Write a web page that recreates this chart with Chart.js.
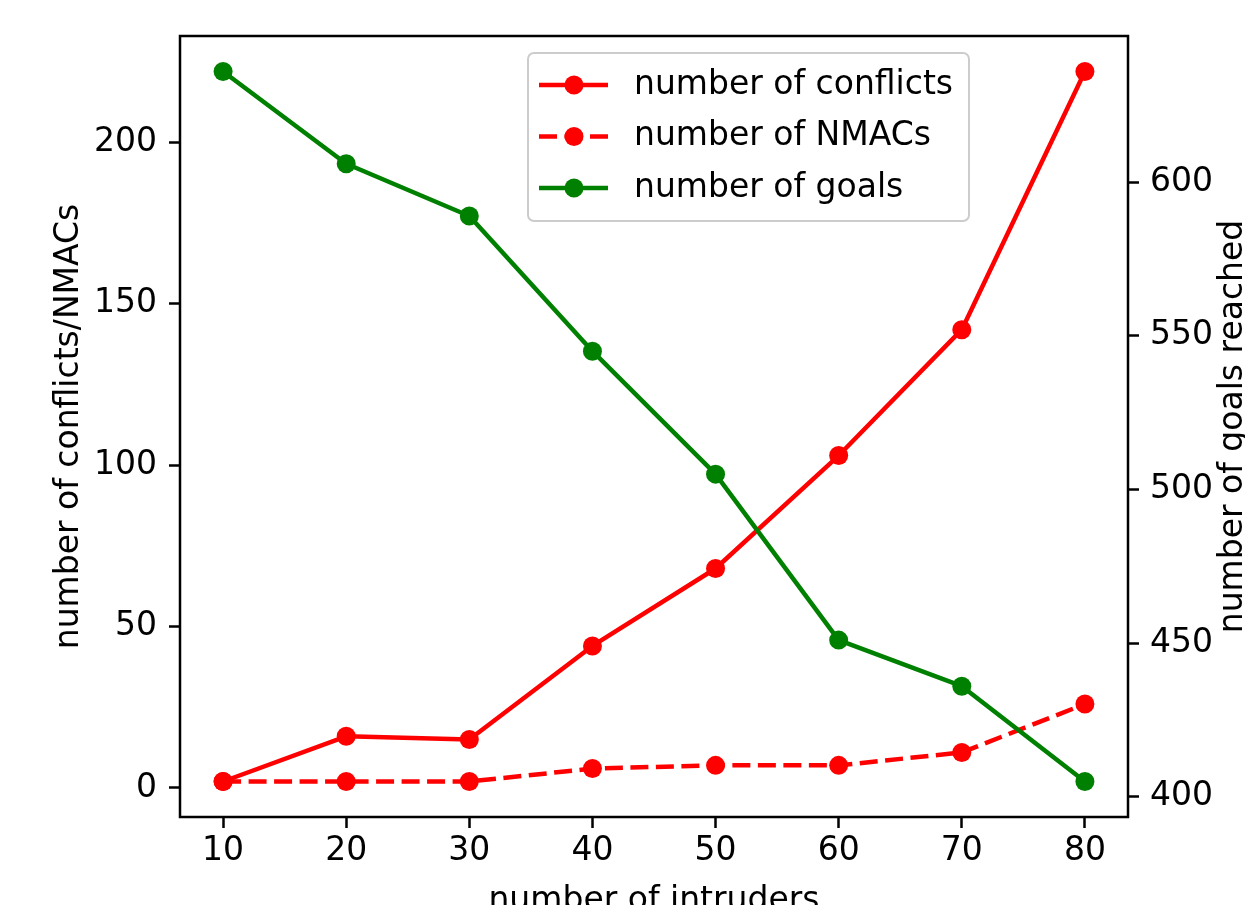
<!DOCTYPE html>
<html><head><meta charset="utf-8">
<script src="https://cdn.jsdelivr.net/npm/chart.js@4.4.1/dist/chart.umd.min.js"></script>
<style>html,body{margin:0;padding:0;background:#fff;overflow:hidden}canvas{display:block}</style>
</head><body>
<canvas id="c" width="1245" height="905"></canvas>
<script>
const intruders = [10, 20, 30, 40, 50, 60, 70, 80];
const conflicts = [2, 16, 15, 44, 68, 103, 142, 222];
const nmacs = [2, 2, 2, 6, 7, 7, 11, 26];
const goals = [636, 606, 589, 545, 505, 451, 436, 405];
const xTicks = [10, 20, 30, 40, 50, 60, 70, 80];
const leftTicks = [0, 50, 100, 150, 200];
const rightTicks = [400, 450, 500, 550, 600];
const seriesLabels = ['number of conflicts', 'number of NMACs', 'number of goals'];
const xTitle = 'number of intruders';
const yLeftTitle = 'number of conflicts/NMACs';
const yRightTitle = 'number of goals reached';

const FONT = 'DejaVu Sans';
const FS = 33;
const RED = '#ff0000', GREEN = '#008000';
const LW = 4.5, PR = 9.5, DASH = [18, 7.5];

Chart.defaults.font.family = FONT;
Chart.defaults.font.size = FS;
Chart.defaults.color = '#000';

const pts = (ys) => intruders.map((x, i) => ({x: x, y: ys[i]}));
const setTicks = (arr) => (scale) => { scale.ticks = arr.map(v => ({value: v})); };

const framePlugin = {
  id: 'frame',
  afterDraw(chart) {
    const {ctx, chartArea: a} = chart;
    ctx.save();
    ctx.strokeStyle = '#000';
    ctx.lineWidth = 2.5;
    ctx.strokeRect(a.left, a.top, a.right - a.left, a.bottom - a.top);
    ctx.restore();
  }
};

const rightTitlePlugin = {
  id: 'rightTitle',
  afterDraw(chart) {
    const {ctx, chartArea: a} = chart;
    ctx.save();
    ctx.translate(1242, (a.top + a.bottom) / 2);
    ctx.rotate(-Math.PI / 2);
    ctx.font = FS + 'px "' + FONT + '"';
    ctx.fillStyle = '#000';
    ctx.textAlign = 'center';
    ctx.textBaseline = 'alphabetic';
    ctx.fillText(yRightTitle, 0, 0);
    ctx.restore();
  }
};

const legendPlugin = {
  id: 'mplLegend',
  afterDraw(chart) {
    const ctx = chart.ctx;
    const bx = 528, by = 53, bw = 441, bh = 168, r = 6;
    ctx.save();
    ctx.beginPath();
    ctx.roundRect(bx, by, bw, bh, r);
    ctx.fillStyle = 'rgba(255,255,255,0.8)';
    ctx.fill();
    ctx.strokeStyle = '#cccccc';
    ctx.lineWidth = 2;
    ctx.stroke();
    const ds = chart.data.datasets;
    const order = [1, 2, 0];
    const rows = [85, 136.5, 188];
    order.forEach((di, k) => {
      const d = ds[di];
      const y = rows[k];
      ctx.strokeStyle = d.borderColor;
      ctx.lineWidth = LW;
      ctx.setLineDash(d.borderDash || []);
      ctx.beginPath();
      ctx.moveTo(539, y);
      ctx.lineTo(608, y);
      ctx.stroke();
      ctx.setLineDash([]);
      ctx.beginPath();
      ctx.arc(574, y, PR, 0, Math.PI * 2);
      ctx.fillStyle = d.pointBackgroundColor;
      ctx.fill();
      ctx.fillStyle = '#000';
      ctx.font = FS + 'px "' + FONT + '"';
      ctx.textAlign = 'left';
      ctx.textBaseline = 'middle';
      ctx.fillText(d.label, 634, y);
    });
    ctx.restore();
  }
};

new Chart(document.getElementById('c'), {
  type: 'line',
  data: {
    datasets: [
      {label: seriesLabels[2], data: pts(goals), yAxisID: 'y1', borderColor: GREEN, backgroundColor: GREEN,
       pointBackgroundColor: GREEN, pointBorderColor: GREEN, borderWidth: LW, pointRadius: PR, pointBorderWidth: 0,
       pointHoverRadius: PR, borderJoinStyle: 'round', tension: 0, fill: false, order: 0},
      {label: seriesLabels[0], data: pts(conflicts), yAxisID: 'y', borderColor: RED, backgroundColor: RED,
       pointBackgroundColor: RED, pointBorderColor: RED, borderWidth: LW, pointRadius: PR, pointBorderWidth: 0,
       pointHoverRadius: PR, borderJoinStyle: 'round', tension: 0, fill: false, order: 1},
      {label: seriesLabels[1], data: pts(nmacs), yAxisID: 'y', borderColor: RED, backgroundColor: RED,
       pointBackgroundColor: RED, pointBorderColor: RED, borderWidth: LW, pointRadius: PR, pointBorderWidth: 0,
       pointHoverRadius: PR, borderDash: DASH, borderJoinStyle: 'round', tension: 0, fill: false, order: 2}
    ]
  },
  options: {
    responsive: false,
    animation: false,
    devicePixelRatio: 1,
    events: [],
    layout: {padding: {left: 0, right: 0, top: 36, bottom: 0}},
    plugins: {legend: {display: false}, tooltip: {enabled: false}},
    scales: {
      x: {
        type: 'linear', position: 'bottom', min: 6.5, max: 83.5,
        afterBuildTicks: setTicks(xTicks),
        afterFit: (s) => { s.height = 88; },
        grid: {display: true, drawOnChartArea: false, drawTicks: true, tickLength: 11, tickWidth: 2.5, tickColor: '#000'},
        border: {display: false},
        ticks: {padding: 3.5, color: '#000', maxRotation: 0, autoSkip: false},
        title: {display: true, text: xTitle, color: '#000', padding: {top: 0, bottom: -16.5}}
      },
      y: {
        type: 'linear', position: 'left', min: -9, max: 233,
        afterBuildTicks: setTicks(leftTicks),
        afterFit: (s) => { s.width = 180; },
        grid: {display: true, drawOnChartArea: false, drawTicks: true, tickLength: 11, tickWidth: 2.5, tickColor: '#000'},
        border: {display: false},
        ticks: {padding: 12, color: '#000', autoSkip: false},
        title: {display: true, text: yLeftTitle, color: '#000', padding: {top: 49.4, bottom: 0}}
      },
      y1: {
        type: 'linear', position: 'right', min: 393.45, max: 647.55,
        afterBuildTicks: setTicks(rightTicks),
        afterFit: (s) => { s.width = 117; },
        grid: {display: true, drawOnChartArea: false, drawTicks: true, tickLength: 11, tickWidth: 2.5, tickColor: '#000'},
        border: {display: false},
        ticks: {padding: 11, color: '#000', autoSkip: false},
        title: {display: false}
      }
    }
  },
  plugins: [framePlugin, rightTitlePlugin, legendPlugin]
});
</script>
</body></html>
